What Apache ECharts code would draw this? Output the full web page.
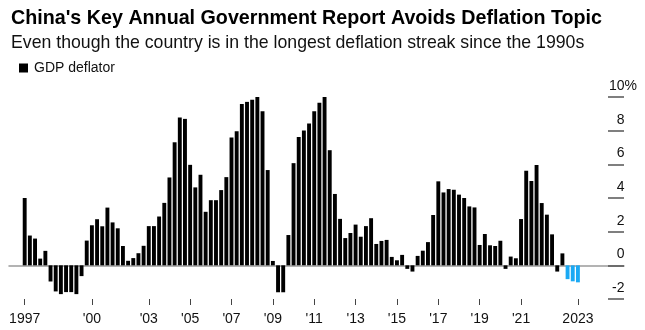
<!DOCTYPE html>
<html>
<head>
<meta charset="utf-8">
<script src="https://cdn.jsdelivr.net/npm/echarts@6/dist/echarts.min.js"></script>
<style>
  html, body { margin: 0; padding: 0; background: #fff; }
  #chart { width: 645px; height: 330px; }
</style>
</head>
<body>
<div id="chart"></div>
<script>
// China GDP deflator, year-on-year %, quarterly 1997Q1 - 2023Q4
const gdpDeflator = [
  4.0, 1.77, 1.59, 0.40, 0.86, -0.96, -1.55, -1.71,
  -1.59, -1.59, -1.71, -0.64, 1.47, 2.38, 2.74, 2.32,
  3.43, 2.55, 2.20, 1.15, 0.27, 0.43, 0.72, 1.16,
  2.33, 2.33, 2.90, 3.71, 5.22, 7.31, 8.78, 8.70,
  5.97, 4.63, 5.38, 3.18, 3.87, 3.87, 4.47, 5.24,
  7.60, 7.97, 9.59, 9.71, 9.83, 10.58, 9.16, 5.66,
  0.26, -1.60, -1.60, 1.80, 6.07, 7.63, 8.01, 8.43,
  9.16, 9.66, 10.04, 6.84, 4.24, 2.76, 1.62, 1.92,
  2.42, 1.70, 2.33, 2.80, 1.27, 1.45, 1.51, 0.50,
  0.30, 0.62, -0.21, -0.37, 0.56, 0.87, 1.38, 2.99,
  4.99, 4.33, 4.53, 4.49, 4.20, 4.00, 3.50, 3.44,
  1.21, 1.86, 1.19, 1.15, 1.46, -0.21, 0.52, 0.42,
  2.75, 5.62, 5.01, 5.96, 3.70, 3.01, 1.84, -0.37,
  0.71, -0.82, -0.95, -1.01
];

// Quarters shown in the deflation streak colour
const streakQuarters = ['2023Q2', '2023Q3', '2023Q4'];

// Quarter categories
const firstYear = 1997;
const quarters = [];
for (let i = 0; i < gdpDeflator.length; i++) {
  quarters.push((firstYear + Math.floor(i / 4)) + 'Q' + (i % 4 + 1));
}

// Bottom axis ticks
const tickQuarters = ['1997Q1', '2000Q2', '2003Q1', '2005Q1', '2007Q1', '2009Q1',
  '2011Q1', '2013Q1', '2015Q1', '2017Q1', '2019Q1', '2021Q1', '2023Q4'];
const tickLabels = ['1997', "'00", "'03", "'05", "'07", "'09",
  "'11", "'13", "'15", "'17", "'19", "'21", '2023'];

// Right axis values
const yMin = -2, yMax = 10, yStep = 2;

const FONT = '"Liberation Sans", Arial, sans-serif';
const BLACK = '#000000';
const BLUE = '#1aa9f4';

const chart = echarts.init(document.getElementById('chart'), null, { renderer: 'canvas' });

const barData = gdpDeflator.map((v, i) => ({
  value: v,
  itemStyle: { color: streakQuarters.includes(quarters[i]) ? BLUE : BLACK }
}));

chart.setOption({
  animation: false,
  backgroundColor: '#fff',
  title: {
    text: "China's Key Annual Government Report Avoids Deflation Topic",
    subtext: 'Even though the country is in the longest deflation streak since the 1990s',
    left: 6,
    top: 3,
    itemGap: 3,
    textStyle: { fontFamily: FONT, fontWeight: 'bold', fontSize: 19.7, color: '#000', lineHeight: 22 },
    subtextStyle: { fontFamily: FONT, fontSize: 17.7, color: '#111', lineHeight: 20 }
  },
  legend: {
    left: 14,
    top: 56,
    icon: 'rect',
    itemWidth: 9,
    itemHeight: 9,
    itemGap: 10,
    textStyle: { fontFamily: FONT, fontSize: 14, color: '#111', padding: [0, 0, 0, 1] },
    data: [{ name: 'GDP deflator', itemStyle: { color: BLACK } }]
  },
  grid: [
    // frame grid: zero line and right-hand scale
    { left: 9, right: 21, top: 97, bottom: 31 },
    // bar grid
    { left: 22.1, right: 64.5, top: 97, bottom: 31 }
  ],
  xAxis: [
    {
      gridIndex: 0, type: 'value', min: 0, max: 1,
      axisLine: { show: true, onZero: true, lineStyle: { color: '#9a9a9a', width: 1.5 } },
      axisTick: { show: false }, axisLabel: { show: false }, splitLine: { show: false }
    },
    {
      gridIndex: 1, type: 'category', data: quarters, boundaryGap: true,
      axisLine: { show: false, onZero: false },
      axisTick: {
        show: true, alignWithLabel: true, length: 6,
        interval: (i, q) => tickQuarters.includes(q),
        lineStyle: { color: '#444', width: 1 }
      },
      axisLabel: {
        show: true, margin: 13,
        interval: (i, q) => tickQuarters.includes(q),
        formatter: q => tickLabels[tickQuarters.indexOf(q)],
        fontFamily: FONT, fontSize: 14, color: '#111'
      },
      splitLine: { show: false }
    }
  ],
  yAxis: [
    {
      gridIndex: 0, type: 'value', position: 'right',
      min: yMin, max: yMax, interval: yStep,
      axisLine: { show: false, onZero: false },
      axisTick: { show: true, inside: true, length: 16, lineStyle: { color: '#555', width: 1.5 } },
      axisLabel: {
        inside: true, align: 'right', verticalAlign: 'bottom', margin: -13,
        padding: [0, 0, 4, 0],
        formatter: v => v === yMax ? '{n|' + v + '}{p|%}' : '{n|' + v + '}{h|%}',
        rich: {
          n: { fontFamily: FONT, fontSize: 14, color: '#111' },
          p: { fontFamily: FONT, fontSize: 14, color: '#111' },
          h: { fontFamily: FONT, fontSize: 14, color: 'rgba(0,0,0,0)' }
        }
      },
      splitLine: { show: false }
    },
    {
      gridIndex: 1, type: 'value', min: yMin, max: yMax, interval: yStep,
      show: false
    }
  ],
  series: [
    {
      name: 'GDP deflator',
      type: 'bar',
      xAxisIndex: 1,
      yAxisIndex: 1,
      barWidth: 3.9,
      data: barData
    }
  ]
});
</script>
</body>
</html>
